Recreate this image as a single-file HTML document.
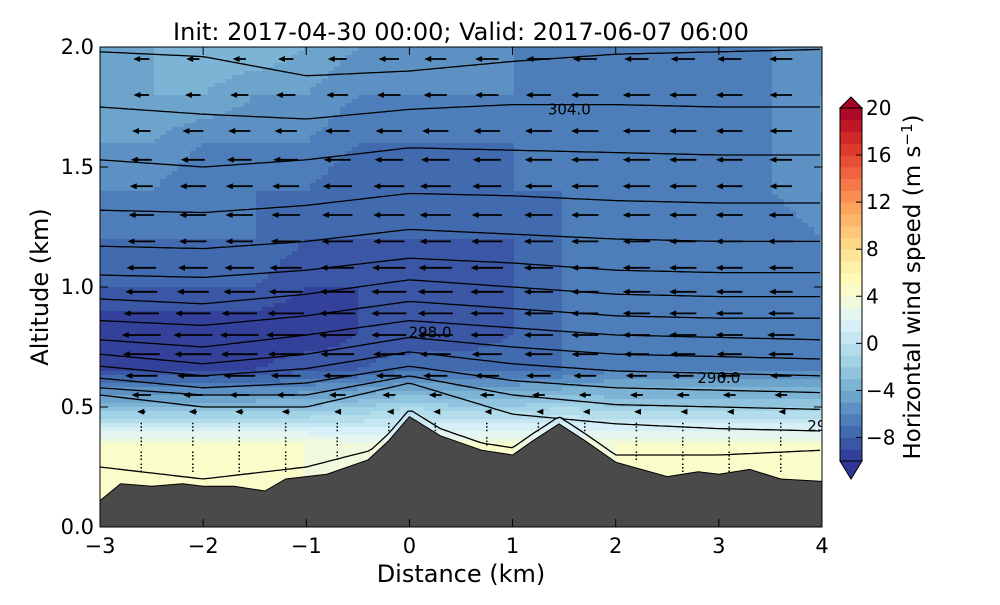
<!DOCTYPE html>
<html><head><meta charset="utf-8"><style>
html,body{margin:0;padding:0;background:#fff;}
svg text{font-family:"DejaVu Sans","Liberation Sans",sans-serif;}
</style></head><body>
<svg id="c" width="1000" height="600" xmlns="http://www.w3.org/2000/svg">
<defs><clipPath id="pc"><rect x="100" y="47" width="722" height="480"/></clipPath></defs>
<g id="field" clip-path="url(#pc)"></g>
<g id="contours" clip-path="url(#pc)"></g>
<g id="terrain" clip-path="url(#pc)"></g>
<g id="arrows" clip-path="url(#pc)"></g>
<g id="axes"></g>
<g id="cbar"></g>
</svg>
<script>
const NS="http://www.w3.org/2000/svg";
// ---- data ----
const xCols=[-3,-2.5,-2,-1.5,-1,-0.5,0,0.5,1,1.5,2,2.5,3,3.5,4];
const altRows=[0.2,0.35,0.5,0.65,0.8,1.0,1.2,1.4,1.6,1.8,2.0];
const speed=[
[4,4,4,4,4,4,4,4,4,4,4,4,4,4,4],
[4,4,4,4,4,3,3,4,4,3,4,4,4,4,4],
[-3,-3,-3,-3,-3,-2,-1,-2,-2,-1,-2,-2,-2,-2,-2],
[-9,-9,-9,-9,-8,-8,-7,-7,-7,-7,-6,-6,-6,-6,-6],
[-10,-10,-10,-10,-10,-9,-9,-9,-8,-7,-7,-7,-7,-7,-7],
[-8,-8,-8,-8,-9,-9,-9,-9,-8,-7,-7,-7,-7,-6,-6],
[-7,-7,-7,-7,-8,-8,-8,-8,-8,-7,-7,-7,-7,-7,-6],
[-6,-6,-7,-7,-7,-8,-8,-8,-7,-7,-7,-7,-7,-6,-5],
[-5,-5,-6,-6,-6,-7,-7,-7,-7,-7,-7,-7,-7,-6,-5],
[-4,-4,-4,-5,-5,-6,-6,-6,-6,-7,-7,-7,-7,-6,-5],
[-5,-4,-3,-3,-4,-5,-5,-6,-6,-6,-6,-6,-6,-6,-6]];
const terrX=[-3,-2.8,-2.5,-2.2,-2,-1.7,-1.4,-1.2,-0.8,-0.4,-0.2,0,0.3,0.7,1,1.2,1.45,1.7,2,2.5,2.8,3,3.3,3.6,4];
const terrH=[0.11,0.18,0.17,0.18,0.17,0.17,0.15,0.2,0.22,0.28,0.36,0.46,0.38,0.32,0.3,0.36,0.43,0.36,0.27,0.21,0.23,0.22,0.24,0.2,0.19];
const cX=[-3,-2,-1,0,1,2,3,4];
const contourH=[
[0.25,0.2,0.25,0.36,0.32,0.3,0.3,0.32],
[0.55,0.5,0.5,0.6,0.47,0.43,0.41,0.4],
[0.58,0.55,0.55,0.63,0.55,0.51,0.5,0.49],
[0.62,0.58,0.6,0.67,0.61,0.58,0.57,0.56],
[0.67,0.63,0.66,0.73,0.68,0.65,0.64,0.63],
[0.72,0.68,0.72,0.79,0.75,0.72,0.71,0.7],
[0.78,0.75,0.8,0.86,0.83,0.8,0.79,0.78],
[0.86,0.84,0.88,0.94,0.91,0.88,0.87,0.87],
[0.95,0.93,0.97,1.03,1.0,0.97,0.96,0.96],
[1.05,1.04,1.07,1.12,1.1,1.07,1.06,1.06],
[1.17,1.16,1.19,1.24,1.22,1.2,1.19,1.19],
[1.32,1.31,1.34,1.39,1.38,1.36,1.35,1.35],
[1.53,1.5,1.53,1.58,1.57,1.56,1.55,1.55],
[1.75,1.72,1.7,1.74,1.76,1.76,1.75,1.75],
[1.98,1.96,1.88,1.9,1.94,1.97,1.98,1.99]];
const cLabels=[["304.0",1.55,1.74],["298.0",0.2,0.81],["296.0",3.0,0.62],["29",3.95,0.42]];
const xTicks=[-3,-2,-1,0,1,2,3,4];
const yTicks=[0.0,0.5,1.0,1.5,2.0];
const cbTicks=[20,16,12,8,4,0,-4,-8];
// ---- scales ----
const X=v=>100+(v+3)*722/7, Y=v=>527-v*240;
const CB=v=>461-(v+10)*353/30;
function el(t,a,p){const e=document.createElementNS(NS,t);for(const k in a)e.setAttribute(k,a[k]);p.appendChild(e);return e;}
const stops=[[-10,[49,54,149]],[-7,[69,117,180]],[-4,[116,173,209]],[-1,[171,217,233]],[2,[224,243,248]],[5,[255,255,191]],[8,[254,224,144]],[11,[253,174,97]],[14,[244,109,67]],[17,[215,48,39]],[20,[165,0,38]]];
function cmap(v){v=Math.max(-10,Math.min(20,v));for(let i=0;i<stops.length-1;i++){const[a,ca]=stops[i],[b,cb]=stops[i+1];if(v<=b){const t=(v-a)/(b-a);return`rgb(${ca.map((c,j)=>Math.round(c+(cb[j]-c)*t)).join(",")})`;}}return"rgb(165,0,38)";}
function interp1(xs,ys,x){if(x<=xs[0])return ys[0];for(let i=0;i<xs.length-1;i++)if(x<=xs[i+1]){const t=(x-xs[i])/(xs[i+1]-xs[i]);return ys[i]+(ys[i+1]-ys[i])*t;}return ys[ys.length-1];}
function field(x,a){let r=0;while(r<altRows.length-2&&a>altRows[r+1])r++;const ta=Math.max(0,Math.min(1,(a-altRows[r])/(altRows[r+1]-altRows[r])));const v0=interp1(xCols,speed[r],x),v1=interp1(xCols,speed[r+1],x);return v0+(v1-v0)*ta;}
// field
const fg=document.getElementById('field');
for(let py=47;py<527;py+=4){for(let px=100;px<822;px+=6){const x=(px+3-100)*7/722-3,a=(527-(py+2))/240;const v=Math.floor(field(x,a));const r=el('rect',{x:px,y:py,width:6.5,height:4.5,fill:cmap(v+0.5)},fg);}}
// contours
const cg=document.getElementById('contours');
contourH.forEach(h=>{let d='';for(let px=100;px<=822;px+=4){const x=(px-100)*7/722-3;let a=interp1(cX,h,x);a=Math.max(a,interp1(terrX,terrH,x)+0.03);d+=(d?'L':'M')+px+','+Y(a).toFixed(1);}const p=el('path',{d:d,fill:'none',stroke:'#000','stroke-width':1.3},cg);});
cLabels.forEach(l=>{const t=el('text',{x:X(l[1]),y:Y(l[2])+5,'font-size':15,'text-anchor':'middle',fill:'#000'},cg);t.textContent=l[0];});
// terrain
const tg=document.getElementById('terrain');
let td=`M${X(-3)},527`;terrX.forEach((x,i)=>td+=`L${X(x).toFixed(1)},${Y(terrH[i]).toFixed(1)}`);td+=`L${X(4)},527Z`;
const tp=el('path',{d:td,fill:'#4a4a4a',stroke:'#000','stroke-width':1},tg);
// arrows
const ag=document.getElementById('arrows');
const arrX=[-2.6,-2.1,-1.65,-1.2,-0.7,-0.2,0.25,0.75,1.25,1.7,2.2,2.65,3.1,3.6];
const arrA=[1.95,1.8,1.65,1.53,1.42,1.3,1.19,1.08,0.98,0.89,0.8,0.72,0.63,0.55,0.48,0.42,0.36,0.3,0.25];
arrA.forEach(a=>arrX.forEach(x=>{if(a<interp1(terrX,terrH,x)+0.02)return;const u=field(x,a);if(u>0){const g=el('g',{},ag);el('line',{x1:X(x),y1:Y(a)+5,x2:X(x),y2:Y(a)-5,stroke:'#000','stroke-width':1.5,'stroke-dasharray':'1.5,2'},g);return;}const L=Math.max(4,Math.abs(u)*3.9);const x0=X(x)+L/2,y0=Y(a),x1=X(x)-L/2;
const g=el('g',{},ag);
el('line',{x1:x0,y1:y0,x2:x1+5,y2:y0,stroke:'#000','stroke-width':1.8},g);
el('path',{d:`M${x1},${y0}L${x1+7},${y0-3}L${x1+7},${y0+3}Z`,fill:'#000'},g);}));
// axes
const ax=document.getElementById('axes');
const fr=el('rect',{x:100,y:47,width:722,height:480,fill:'none',stroke:'#000','stroke-width':1},ax);
xTicks.forEach(v=>{el('line',{x1:X(v),y1:527,x2:X(v),y2:519,stroke:'#000'},ax);el('line',{x1:X(v),y1:47,x2:X(v),y2:55,stroke:'#000'},ax);const t=el('text',{x:X(v),y:553,'font-size':21,'text-anchor':'middle'},ax);t.textContent=(v<0?'\u2212'+(-v):v);});
yTicks.forEach(v=>{el('line',{x1:100,y1:Y(v),x2:108,y2:Y(v),stroke:'#000'},ax);el('line',{x1:822,y1:Y(v),x2:814,y2:Y(v),stroke:'#000'},ax);const t=el('text',{x:94,y:Y(v)+7,'font-size':21,'text-anchor':'end'},ax);t.textContent=v.toFixed(1);});
let t=el('text',{x:461,y:582,'font-size':24,'text-anchor':'middle'},ax);t.textContent='Distance (km)';
t=el('text',{x:48,y:287,'font-size':24,'text-anchor':'middle',transform:'rotate(-90 48 287)'},ax);t.textContent='Altitude (km)';
t=el('text',{x:461,y:40,'font-size':24,'text-anchor':'middle'},ax);t.textContent='Init: 2017-04-30 00:00; Valid: 2017-06-07 06:00';
// colorbar
const cbg=document.getElementById('cbar');
for(let v=-10;v<20;v++){const r=el('rect',{x:840,y:CB(v+1),width:22,height:353/30+0.5,fill:cmap(v+0.5)},cbg);}
el('path',{d:`M840,${CB(20)}L851,97L862,${CB(20)}Z`,fill:cmap(20),stroke:'#000'},cbg);
el('path',{d:`M840,${CB(-10)}L851,479L862,${CB(-10)}Z`,fill:cmap(-10),stroke:'#000'},cbg);
el('rect',{x:840,y:CB(20),width:22,height:353,fill:'none',stroke:'#000'},cbg);
cbTicks.forEach(v=>{el('line',{x1:856,y1:CB(v),x2:862,y2:CB(v),stroke:'#000'},cbg);const tt=el('text',{x:866,y:CB(v)+7,'font-size':20},cbg);tt.textContent=(v<0?'\u2212'+(-v):v);});
t=el('text',{x:920,y:287,'font-size':23,'text-anchor':'middle',transform:'rotate(-90 920 287)'},cbg);t.innerHTML='Horizontal wind speed (m s<tspan dy="-8" font-size="15">\u22121</tspan><tspan dy="8">)</tspan>';
</script>
</body></html>
